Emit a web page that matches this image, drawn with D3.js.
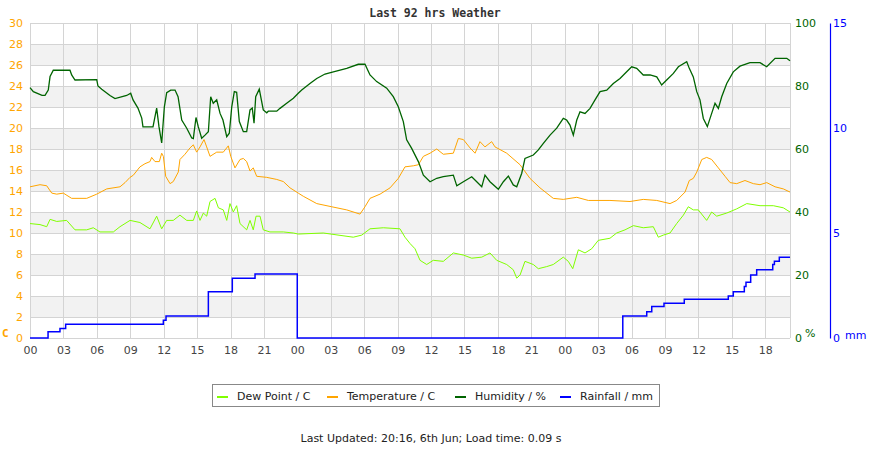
<!DOCTYPE html>
<html lang="en">
<head>
<meta charset="UTF-8">
<title>Last 92 hrs Weather</title>
<style>
  body { margin: 0; background: #fff; }
</style>
<script src="https://cdn.jsdelivr.net/npm/d3@7"></script>
</head>
<body>
<script>
// readings: [hours since first 00:00, value]
const humidity = [
  [0,79.5],[0.30,78.2],[1.08,77],[1.35,77],[1.64,78.7],[1.80,83],[2.09,85],[3.14,85],[3.59,85],[3.74,83.5],
  [4.04,81.9],[5.99,82],[6.10,80],[6.44,79],[7.18,77],[7.63,76],[8.68,77],[9.04,77.7],[9.25,75.6],[9.69,73],
  [10.03,69.8],[10.14,67],[11.04,67],[11.37,73],[11.58,67],[11.82,61.9],[12.06,73.4],[12.27,77.9],[12.63,78.7],
  [13.02,78.7],[13.29,76.6],[13.62,69.2],[14.07,66.6],[14.52,63.5],[14.66,63.3],[14.90,70],[15.11,67],[15.41,63.4],
  [15.71,64.4],[16.01,65.5],[16.22,76.6],[16.45,74.5],[16.76,75.6],[17.06,71.3],[17.32,69.2],[17.66,63.9],
  [17.89,65],[18.11,73.4],[18.34,78.2],[18.55,78],[18.79,68.7],[19.15,65.5],[19.45,65.5],[19.75,72.4],[19.95,73],
  [20.11,68.2],[20.26,76.6],[20.58,79],[20.94,72.4],[21.25,71.5],[21.39,72],[22.15,72],[22.44,72.9],[23.04,74.5],
  [23.64,76.1],[24.08,77.7],[24.39,78.7],[25.13,80.8],[25.74,82.4],[26.48,83.8],[27.23,84.5],[28.43,85.6],
  [29.47,86.9],[30.07,86.9],[30.52,83.5],[31.12,81.4],[32.02,79.3],[32.61,76.6],[33.06,73.4],[33.51,68.7],
  [33.81,62.9],[34.26,60.2],[34.86,56],[35.31,51.7],[35.91,49.6],[36.51,50.7],[37.10,51.2],[38.00,51.7],
  [38.31,48.3],[38.90,49.6],[39.65,51.2],[40.10,49.6],[40.55,48],[40.84,51.7],[41.29,49.6],[42.04,47.2],
  [42.49,49.6],[42.94,51.4],[43.38,48.6],[43.69,48],[44.14,52.3],[44.43,57],[45.18,58.1],[45.63,59.7],
  [46.08,61.8],[46.68,64.4],[47.28,66.6],[47.87,69.7],[48.17,69.2],[48.47,67.6],[48.77,64.4],[49.08,69.2],
  [49.37,71.8],[49.82,71.3],[50.27,72.9],[50.72,75.6],[51.17,78.2],[51.77,78.7],[52.36,80.8],[52.96,82.4],
  [53.56,84.5],[54.01,86.1],[54.46,85.6],[55.05,83.5],[55.66,83.5],[56.26,82.9],[56.70,80.3],[57.15,81.9],
  [57.75,84],[58.20,86.1],[58.95,87.7],[59.18,85.6],[59.54,82.9],[59.85,78.2],[60.14,75.6],[60.44,69.7],
  [60.80,67.1],[61.19,71.3],[61.49,74.5],[61.79,72.9],[62.09,76.6],[62.54,80.8],[63.13,84.5],[63.73,86.3],
  [64.63,87.4],[65.53,87.4],[66.13,86.1],[66.88,88.8],[67.93,88.8],[68.22,88]
];

const temperature = [
  [0,14.4],[0.90,14.6],[1.50,14.5],[1.95,13.8],[2.40,13.7],[2.99,13.8],[3.74,13.3],[5.09,13.3],[5.99,13.7],
  [6.89,14.2],[8.08,14.4],[8.53,14.8],[8.98,15.3],[9.27,15.5],[9.87,16.3],[10.32,16.6],[10.77,16.8],[10.92,17.2],
  [11.22,16.8],[11.61,16.8],[11.82,17.6],[11.97,17.3],[12.18,15.4],[12.57,14.7],[12.86,14.9],[13.31,15.8],
  [13.46,17],[13.91,17.5],[14.36,18.1],[14.66,18.4],[14.96,17.7],[15.26,18.2],[15.62,18.9],[15.86,18.2],
  [16.16,17.3],[16.76,17.7],[17.35,17.7],[17.80,18.3],[18.02,17.3],[18.40,16.2],[18.85,17],[19.15,17.1],
  [19.45,16.8],[19.75,15.9],[20.04,16.2],[20.35,15.4],[21.25,15.3],[22.15,15.1],[22.74,14.9],[23.34,14.3],
  [24.08,13.8],[24.53,13.5],[25.74,12.8],[27.08,12.5],[28.43,12.2],[29.62,11.8],[30.07,12.5],[30.52,13.3],
  [31.42,13.7],[32.32,14.3],[33.06,15.2],[33.66,16.3],[34.41,16.4],[34.86,16.5],[35.31,17.3],[35.91,17.6],
  [36.51,18],[37.10,17.5],[38.00,17.6],[38.45,19],[38.90,18.9],[39.50,18.1],[39.95,17.6],[40.39,18.7],
  [40.84,18.2],[41.44,18.7],[41.74,18.2],[42.79,17.6],[43.99,16.5],[44.88,15.2],[45.78,14.3],[46.97,13.3],
  [47.87,13.2],[49.08,13.4],[50.12,13.1],[52.06,13.1],[53.86,13],[55.05,13.2],[56.26,13.1],[57.45,12.8],
  [58.05,13.1],[58.80,13.9],[59.18,15],[59.54,15.2],[59.85,15.8],[60.30,17],[60.74,17.2],[61.19,17],
  [61.79,16.2],[62.39,15.4],[62.84,14.8],[63.44,14.7],[64.18,15],[64.93,14.7],[65.53,14.6],[66.13,14.8],
  [66.88,14.4],[67.62,14.2],[68.22,13.9]
];

const dewPoint = [
  [0,10.9],[0.90,10.8],[1.50,10.6],[1.80,11.3],[2.40,11.1],[3.29,11.2],[4.04,10.3],[5.09,10.3],[5.68,10.5],
  [6.28,10.1],[7.48,10.1],[8.08,10.6],[8.98,11.2],[9.87,11],[10.77,10.4],[11.37,11.6],[11.82,10.4],[12.27,11.2],
  [12.86,11.2],[13.46,11.7],[14.07,11.2],[14.66,11.2],[14.96,12.1],[15.26,11.2],[15.56,11.9],[15.86,11.6],
  [16.16,13],[16.61,13.3],[16.91,12.4],[17.35,12.2],[17.66,11.2],[17.95,12.8],[18.25,12],[18.55,12.6],
  [18.85,10.9],[19.45,10.3],[19.75,11.2],[20.04,10.3],[20.29,11.6],[20.65,11.6],[20.94,10.3],[21.54,10.1],
  [22.74,10.1],[23.64,10],[24.08,9.9],[26.33,10],[29.02,9.6],[29.78,9.8],[30.52,10.4],[31.72,10.5],[33.21,10.4],
  [33.66,9.6],[34.11,9],[34.56,8.5],[35.01,7.4],[35.61,7],[36.20,7.4],[37.10,7.3],[38.00,8.1],[38.90,7.9],
  [39.65,7.6],[40.55,7.7],[41.29,8.1],[41.89,7.4],[42.79,7],[43.38,6.5],[43.69,5.7],[43.99,6],[44.43,7.3],
  [45.18,7],[45.63,6.6],[46.38,6.8],[46.97,7],[47.87,7.7],[48.32,7.3],[48.72,6.6],[49.22,8.4],[49.82,8.1],
  [50.42,8.5],[51.01,9.3],[52.06,9.5],[52.66,10],[53.41,10.3],[54.16,10.7],[55.05,10.5],[55.95,10.6],
  [56.40,9.6],[56.85,9.8],[57.45,10],[58.05,10.9],[58.65,11.7],[59.09,12.5],[59.54,12.2],[59.99,12.2],
  [60.74,11.2],[61.19,12],[61.64,11.6],[62.54,11.9],[63.44,12.3],[64.34,12.8],[65.53,12.6],[66.72,12.6],
  [67.62,12.4],[68.22,12]
];

const rainfall = [
  [0,0],[1.62,0.3],[2.69,0.45],[3.20,0.65],[11.97,0.85],[12.21,1.05],[16.01,2.2],[18.16,2.85],[20.20,3.05],
  [23.99,0],[53.21,1.05],[55.36,1.25],[55.81,1.5],[56.91,1.65],[58.73,1.85],[62.68,2.0],[63.13,2.2],
  [64.12,2.45],[64.27,2.65],[64.69,3.0],[65.23,3.25],[66.67,3.5],[66.82,3.65],[67.26,3.85],[68.22,3.85]
];

const tempTicks = [0, 2, 4, 6, 8, 10, 12, 14, 16, 18, 20, 22, 24, 26, 28, 30];
const humTicks = [0, 20, 40, 60, 80, 100];
const rainTicks = [0, 5, 10, 15];
const hourTicks = [0, 3, 6, 9, 12, 15, 18, 21, 24, 27, 30, 33, 36, 39, 42, 45, 48, 51, 54, 57, 60, 63, 66];

const legendItems = [
  { label: "Dew Point / C", color: "#80ff00" },
  { label: "Temperature / C", color: "#ffa500" },
  { label: "Humidity / %", color: "#006400" },
  { label: "Rainfall / mm", color: "#0000ff" }
];

const width = 870, height = 450;
const plotL = 30, plotR = 790, plotT = 23, plotB = 338;

const svg = d3.select("body").append("svg")
  .attr("width", width)
  .attr("height", height)
  .attr("font-family", "DejaVu Sans");

const x = d3.scaleLinear().domain([0, 68.22]).range([plotL, plotR]);
const yT = d3.scaleLinear().domain([0, 30]).range([plotB, plotT]);
const yH = d3.scaleLinear().domain([0, 100]).range([plotB, plotT]);
const yR = d3.scaleLinear().domain([0, 15]).range([plotB, plotT]);

// alternating bands
svg.append("g").selectAll("rect")
  .data(tempTicks.slice(0, -1).filter((d, i) => i % 2 == 1))
  .join("rect")
  .attr("x", plotL)
  .attr("width", plotR - plotL)
  .attr("y", d => yT(d + 2))
  .attr("height", d => yT(d) - yT(d + 2))
  .attr("fill", "#f2f2f2");

// grid
const grid = svg.append("g").attr("stroke", "#d4d4d4").attr("stroke-width", 1).attr("shape-rendering", "crispEdges");
grid.selectAll(".h").data(tempTicks).join("line")
  .attr("x1", plotL).attr("x2", plotR)
  .attr("y1", d => Math.round(yT(d)) + 0.5).attr("y2", d => Math.round(yT(d)) + 0.5);
grid.selectAll(".v").data(hourTicks).join("line")
  .attr("x1", d => Math.round(x(d)) + 0.5).attr("x2", d => Math.round(x(d)) + 0.5)
  .attr("y1", plotT).attr("y2", plotB);
grid.append("line").attr("x1", plotR + 0.5).attr("x2", plotR + 0.5).attr("y1", plotT).attr("y2", plotB);

// axes
const axT = svg.append("g").attr("transform", `translate(${plotL - 7},0)`)
  .call(d3.axisLeft(yT).tickValues(tempTicks).tickSize(0).tickPadding(0));
axT.select(".domain").remove();
axT.selectAll("text").attr("fill", "#ffa500").attr("font-size", 11).attr("font-family", "DejaVu Sans");

const axH = svg.append("g").attr("transform", `translate(${plotR + 5},0)`)
  .call(d3.axisRight(yH).tickValues(humTicks).tickSize(0).tickPadding(0));
axH.select(".domain").remove();
axH.selectAll("text").attr("fill", "#006400").attr("font-size", 11).attr("font-family", "DejaVu Sans");

const axR = svg.append("g").attr("transform", `translate(830,0)`)
  .call(d3.axisRight(yR).tickValues(rainTicks).tickSize(0).tickPadding(3));
axR.select(".domain").attr("stroke", "#0000ff").attr("stroke-width", 1.2);
axR.selectAll("text").attr("fill", "#0000ff").attr("font-size", 11).attr("font-family", "DejaVu Sans");

const axX = svg.append("g").attr("transform", `translate(0,${plotB + 8})`)
  .call(d3.axisBottom(x).tickValues(hourTicks).tickSize(0).tickPadding(0)
    .tickFormat(d => d3.format("02d")(d % 24)));
axX.select(".domain").remove();
axX.selectAll("text").attr("fill", "#444").attr("font-size", 11).attr("font-family", "DejaVu Sans");

// unit labels
svg.append("text").attr("x", 2).attr("y", 337).text("C")
  .attr("fill", "#ffa500").attr("font-size", 11).attr("font-weight", "bold").attr("font-family", "DejaVu Sans Mono");
svg.append("text").attr("x", 805).attr("y", 337).text("%")
  .attr("fill", "#006400").attr("font-size", 11);
svg.append("text").attr("x", 845).attr("y", 339).text("mm")
  .attr("fill", "#0000ff").attr("font-size", 11);

// series
const line = (ys) => d3.line().x(d => x(d[0])).y(d => ys(d[1]));

svg.append("path").datum(dewPoint)
  .attr("d", line(yT)).attr("fill", "none").attr("stroke", "#80ff00").attr("stroke-width", 1);
svg.append("path").datum(temperature)
  .attr("d", line(yT)).attr("fill", "none").attr("stroke", "#ffa500").attr("stroke-width", 1);
svg.append("path").datum(humidity)
  .attr("d", line(yH)).attr("fill", "none").attr("stroke", "#006400").attr("stroke-width", 1.3);
svg.append("path").datum(rainfall)
  .attr("d", line(yR).curve(d3.curveStepAfter)).attr("fill", "none").attr("stroke", "#0000ff").attr("stroke-width", 1.5);

// title
svg.append("text").attr("x", 435).attr("y", 17).attr("text-anchor", "middle")
  .attr("font-family", "DejaVu Sans Mono").attr("font-weight", "bold").attr("font-size", 11.5)
  .attr("fill", "#333").text("Last 92 hrs Weather");

// legend
const lg = svg.append("g");
lg.append("rect").attr("x", 212.5).attr("y", 384.5).attr("width", 447).attr("height", 22)
  .attr("fill", "#fff").attr("stroke", "#888");
const lx = [217, 327, 455, 560];
legendItems.forEach((d, i) => {
  lg.append("line").attr("x1", lx[i]).attr("x2", lx[i] + 11).attr("y1", 397).attr("y2", 397)
    .attr("stroke", d.color).attr("stroke-width", 2);
  lg.append("text").attr("x", lx[i] + 20).attr("y", 400).attr("font-size", 11).attr("fill", "#222").text(d.label);
});

// footer
svg.append("text").attr("x", 431).attr("y", 442).attr("text-anchor", "middle")
  .attr("font-size", 11).attr("fill", "#222").text("Last Updated: 20:16, 6th Jun; Load time: 0.09 s");
</script>
</body>
</html>
